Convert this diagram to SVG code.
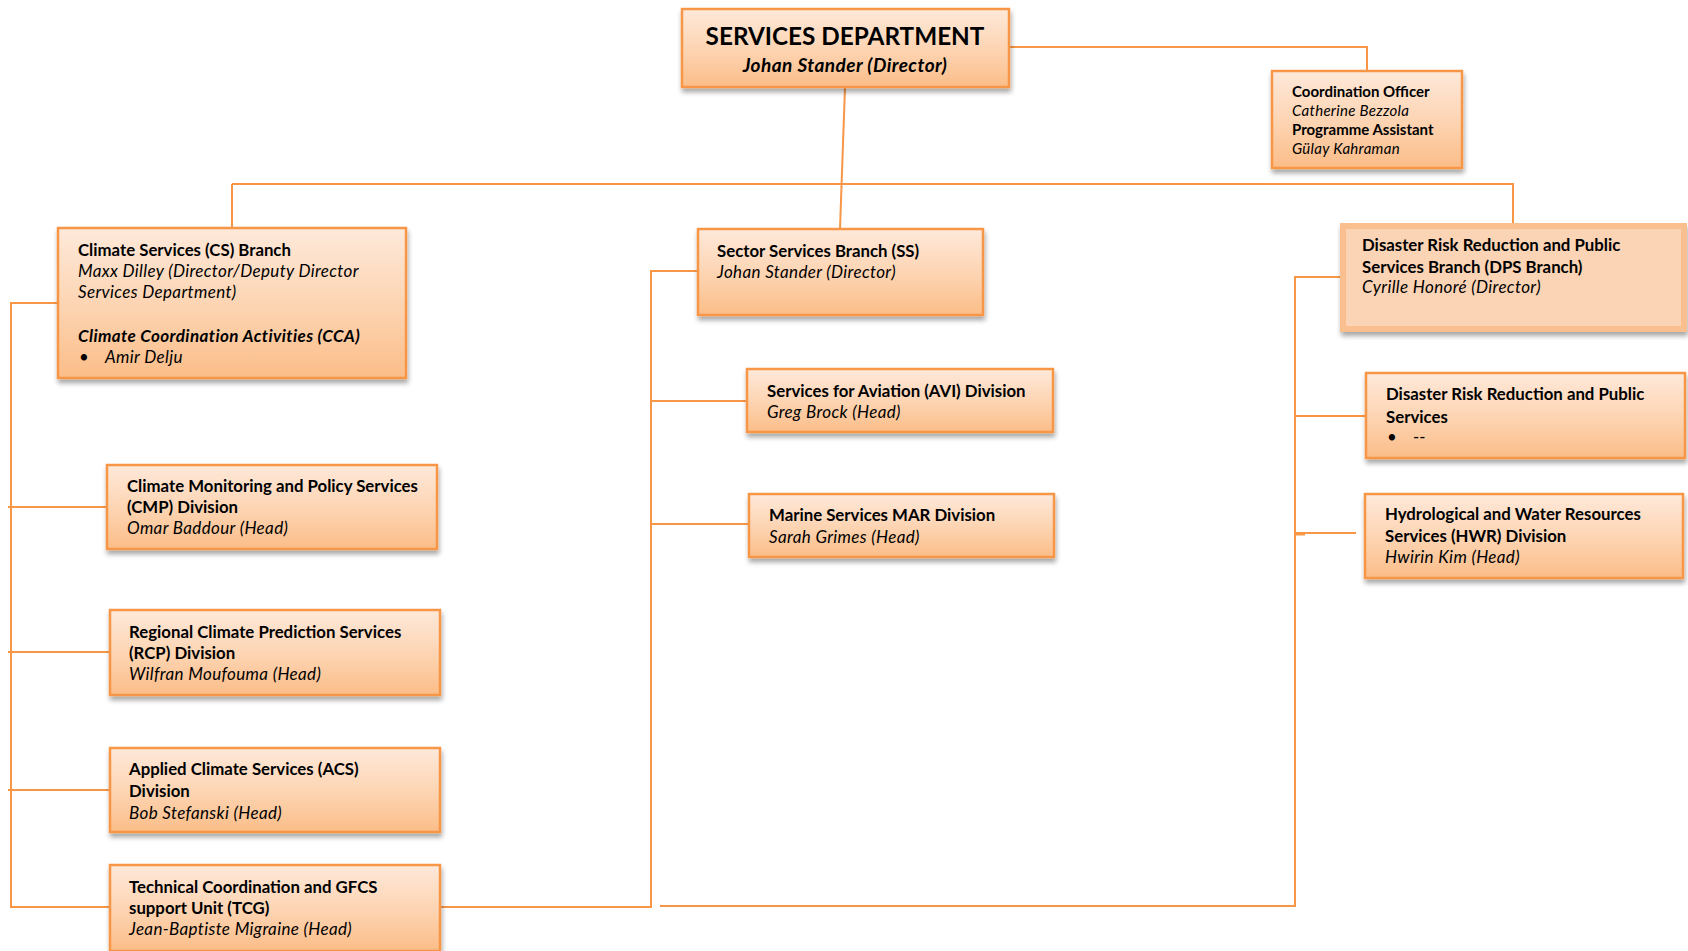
<svg xmlns="http://www.w3.org/2000/svg" width="1688" height="951" viewBox="0 0 1688 951">
<defs>
<linearGradient id="g" x1="0" y1="0" x2="0" y2="1">
<stop offset="0" stop-color="#FEE9DA"/>
<stop offset="0.55" stop-color="#FDD3B0"/>
<stop offset="1" stop-color="#FBBD88"/>
</linearGradient>
<filter id="sh" x="-5%" y="-5%" width="115%" height="125%">
<feGaussianBlur in="SourceAlpha" stdDeviation="2.5"/>
<feOffset dx="1" dy="4" result="b"/>
<feComponentTransfer><feFuncA type="linear" slope="0.35"/></feComponentTransfer>
<feMerge><feMergeNode/><feMergeNode in="SourceGraphic"/></feMerge>
</filter>
</defs>
<style>
.box{fill:url(#g);stroke:#F79646;stroke-width:2.5;filter:url(#sh)}
.dps{fill:#FBD4B5;stroke:#F9BF8F;stroke-width:6;filter:url(#sh)}
.ln{fill:none;stroke:#F79646;stroke-width:2}
text{font-family:Lato,"Open Sans","Liberation Sans",sans-serif;fill:#000;font-size:16.8px}
.b{font-weight:bold}
.i{font-style:italic;font-size:17px;letter-spacing:0.35px}
.bi{font-weight:bold;font-style:italic;font-size:17px;letter-spacing:0.4px}
.sb{font-weight:bold;font-size:15px}
.si{font-style:italic;font-size:15px;letter-spacing:0.3px}
</style>
<g id="connectors">
<polyline class="ln" points="1009,47 1367,47 1367,71"/>
<polyline class="ln" points="845,87 840,229"/>
<line class="ln" x1="232" y1="184" x2="1514" y2="184"/>
<line class="ln" x1="232" y1="184" x2="232" y2="228"/>
<line class="ln" x1="1513" y1="183" x2="1513" y2="223"/>
<polyline class="ln" points="58,303 11,303 11,907 110,907"/>
<line class="ln" x1="8" y1="507" x2="107" y2="507"/>
<line class="ln" x1="8" y1="652" x2="110" y2="652"/>
<line class="ln" x1="8" y1="790" x2="110" y2="790"/>
<polyline class="ln" points="698,271 651,271 651,907 440,907"/>
<line class="ln" x1="651" y1="401" x2="747" y2="401"/>
<line class="ln" x1="651" y1="524" x2="749" y2="524"/>
<polyline class="ln" points="660,906 1295,906 1295,277 1341,277"/>
<line class="ln" x1="1295" y1="416" x2="1366" y2="416"/>
<line class="ln" x1="1295" y1="533" x2="1356" y2="533"/>
<line class="ln" x1="1295" y1="534.5" x2="1305" y2="534.5"/>
</g>
<g id="services-department">
<rect class="box" x="682" y="9" width="327" height="78"/>
<text x="845" y="45" text-anchor="middle" class="b" style="font-size:24.3px">SERVICES DEPARTMENT</text>
<text x="845" y="72" text-anchor="middle" class="bi" style="font-size:19px;letter-spacing:0.45px">Johan Stander (Director)</text>
</g>
<g id="coordination">
<rect class="box" x="1272" y="71" width="190" height="97"/>
<text x="1292" y="97" class="sb">Coordination Officer</text>
<text x="1292" y="115.5" class="si">Catherine Bezzola</text>
<text x="1292" y="134.5" class="sb">Programme Assistant</text>
<text x="1292" y="153.5" class="si">Gülay Kahraman</text>
</g>
<g id="cs-branch">
<rect class="box" x="58" y="228" width="348" height="150"/>
<text x="78" y="256" class="b">Climate Services (CS) Branch</text>
<text x="78" y="277" class="i">Maxx Dilley (Director/Deputy Director</text>
<text x="78" y="298" class="i">Services Department)</text>
<text x="78" y="342" class="bi">Climate Coordination Activities (CCA)</text>
<text x="79" y="363">•</text>
<text x="105" y="363" class="i">Amir Delju</text>
</g>
<g id="cmp">
<rect class="box" x="107" y="465" width="330" height="84"/>
<text x="127" y="492" class="b">Climate Monitoring and Policy Services</text>
<text x="127" y="513" class="b">(CMP) Division</text>
<text x="127" y="534" class="i">Omar Baddour (Head)</text>
</g>
<g id="rcp">
<rect class="box" x="110" y="610" width="330" height="85"/>
<text x="129" y="638" class="b">Regional Climate Prediction Services</text>
<text x="129" y="659" class="b">(RCP) Division</text>
<text x="129" y="680" class="i">Wilfran Moufouma (Head)</text>
</g>
<g id="acs">
<rect class="box" x="110" y="748" width="330" height="84"/>
<text x="129" y="775" class="b">Applied Climate Services (ACS)</text>
<text x="129" y="797" class="b">Division</text>
<text x="129" y="819" class="i">Bob Stefanski (Head)</text>
</g>
<g id="tcg">
<rect class="box" x="110" y="865" width="330" height="86"/>
<text x="129" y="893" class="b">Technical Coordination and GFCS</text>
<text x="129" y="914" class="b">support Unit (TCG)</text>
<text x="129" y="935" class="i">Jean-Baptiste Migraine (Head)</text>
</g>
<g id="ss-branch">
<rect class="box" x="698" y="229" width="285" height="86"/>
<text x="717" y="257" class="b">Sector Services Branch (SS)</text>
<text x="717" y="278" class="i">Johan Stander (Director)</text>
</g>
<g id="avi">
<rect class="box" x="747" y="369" width="306" height="63"/>
<text x="767" y="397" class="b">Services for Aviation (AVI) Division</text>
<text x="767" y="418" class="i">Greg Brock (Head)</text>
</g>
<g id="mar">
<rect class="box" x="749" y="494" width="305" height="63"/>
<text x="769" y="521" class="b">Marine Services MAR Division</text>
<text x="769" y="543" class="i">Sarah Grimes (Head)</text>
</g>
<g id="dps-branch">
<rect class="dps" x="1343" y="226" width="341" height="103"/>
<text x="1362" y="251" class="b">Disaster Risk Reduction and Public</text>
<text x="1362" y="273" class="b">Services Branch (DPS Branch)</text>
<text x="1362" y="293" class="i">Cyrille Honoré (Director)</text>
</g>
<g id="drr">
<rect class="box" x="1366" y="373" width="319" height="85"/>
<text x="1386" y="400" class="b">Disaster Risk Reduction and Public</text>
<text x="1386" y="423" class="b">Services</text>
<text x="1387" y="443">•</text>
<text x="1413" y="443">--</text>
</g>
<g id="hwr">
<rect class="box" x="1365" y="494" width="318" height="84"/>
<text x="1385" y="520" class="b">Hydrological and Water Resources</text>
<text x="1385" y="542" class="b">Services (HWR) Division</text>
<text x="1385" y="563" class="i">Hwirin Kim (Head)</text>
</g>
</svg>
